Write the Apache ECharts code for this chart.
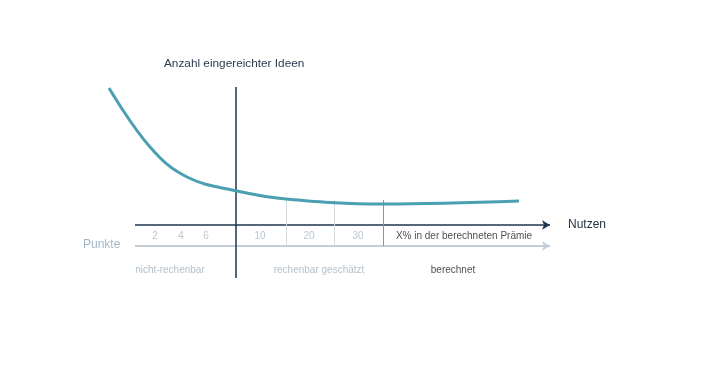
<!DOCTYPE html>
<html><head><meta charset="utf-8">
<script src="https://cdn.jsdelivr.net/npm/echarts@6/dist/echarts.min.js"></script>
<style>html,body{margin:0;padding:0;background:#fff}#c{width:726px;height:366px}</style>
</head><body><div id="c"></div>
<script>
// Curve: Anzahl eingereichter Ideen vs. Nutzen (abstract units 0..100)
const curveX = [1.8, 10, 17.4, 27.4, 37.2, 56.6, 83.8];
const curveY = [84.8, 61.2, 49.2, 43.6, 40.4, 38.4, 39.6];
// Punkte tick labels and their positions on the Nutzen axis
const tickLabels = ['2', '4', '6', '10', '20', '30'];
const tickPos = [11, 16.2, 21.2, 32, 41.8, 51.6];
// Zone labels
const zoneLabels = ['nicht-rechenbar', 'rechenbar geschätzt', 'berechnet'];
const zonePos = [14, 43.8, 70.6];
const zoneColors = ['#9fb0bf', '#9fb0bf', '#222222'];
// Dividers between segments
const dividerX = [37.2, 46.8, 56.6];
const dividerColors = ['#d3dbe2', '#d3dbe2', '#8a96a2'];

const axisY = 30, punkteY = 21.6, axisStart = 7, axisEnd = 90;
const vX = 27.2;

const chart = echarts.init(document.getElementById('c'));
const font = 'Liberation Sans, Arial, sans-serif';
chart.setOption({
  animation: false,
  grid: {left: 100, right: 126, top: 50, bottom: 66},
  xAxis: {type: 'value', min: 0, max: 100, show: false},
  yAxis: {type: 'value', min: 0, max: 100, show: false},
  series: [
    {
      type: 'line', silent: true, symbol: 'none',
      data: [],
      markLine: {
        silent: true, animation: false,
        label: {show: false},
        data: [
          [{coord: [axisStart, axisY], symbol: 'none', lineStyle: {color: '#1e3550', width: 1.5, type: 'solid'}}, {coord: [axisEnd, axisY], symbol: 'arrow', symbolSize: [7, 8]}],
          [{coord: [axisStart, punkteY], symbol: 'none', lineStyle: {color: '#c3ced8', width: 2, type: 'solid'}}, {coord: [axisEnd, punkteY], symbol: 'arrow', symbolSize: [7, 8]}],
          [{coord: [vX, 85.2], symbol: 'none', lineStyle: {color: '#1e3550', width: 1.5, type: 'solid'}}, {coord: [vX, 8.8], symbol: 'none'}]
        ].concat(dividerX.map((x, i) => [
          {coord: [x, 40], symbol: 'none', lineStyle: {color: dividerColors[i], width: 1, type: 'solid'}},
          {coord: [x, punkteY], symbol: 'none'}
        ]))
      }
    },
    {
      type: 'line', smooth: 0.4, symbol: 'none',
      lineStyle: {color: '#4a9fb1', width: 3},
      data: curveX.map((x, i) => [x, curveY[i]]),
      z: 5
    },
    {
      type: 'scatter', symbolSize: 0, silent: true,
      data: tickLabels.map((t, i) => ({value: [tickPos[i], 25.6], name: t})),
      label: {show: true, position: 'inside', formatter: p => p.name, color: '#a9b5c1', fontSize: 10, fontFamily: font}
    },
    {
      type: 'scatter', symbolSize: 0, silent: true,
      data: zoneLabels.map((t, i) => ({value: [zonePos[i], 12], name: t, label: {color: zoneColors[i]}})),
      label: {show: true, position: 'inside', formatter: p => p.name, fontSize: 10, fontFamily: font}
    },
    {
      type: 'scatter', symbolSize: 0, silent: true,
      data: [{value: [72.8, 25.6], name: 'X% in der berechneten Prämie'}],
      label: {show: true, position: 'inside', formatter: p => p.name, color: '#222222', fontSize: 10, fontFamily: font}
    }
  ],
  graphic: [
    {type: 'text', left: 164, top: 58, style: {text: 'Anzahl eingereichter Ideen', fill: '#2b3b50', font: '11.8px ' + font}},
    {type: 'text', left: 568, top: 219, style: {text: 'Nutzen', fill: '#243447', font: '12px ' + font}},
    {type: 'text', left: 83, top: 239, style: {text: 'Punkte', fill: '#9fb7cb', font: '12px ' + font}}
  ]
});
</script></body></html>
